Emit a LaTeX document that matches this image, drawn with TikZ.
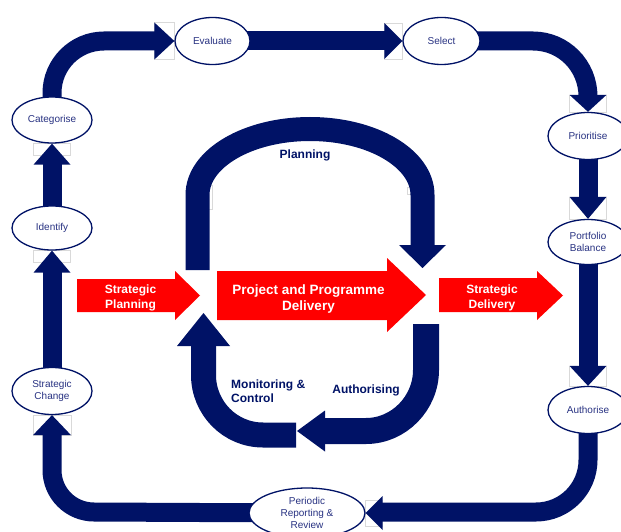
\documentclass[tikz,border=0pt]{standalone}
\usepackage{fontspec}
\setmainfont{Liberation Sans}
\usetikzlibrary{shapes.geometric}
\pgfdeclarelayer{back}
\pgfsetlayers{back,main}
\definecolor{navy}{RGB}{0,18,102}
\definecolor{navytext}{RGB}{40,50,130}
\definecolor{pred}{RGB}{255,0,0}
% arrow heads: tip, length, half width
\newcommand\hdR[3]{\fill[navy] (#1) -- ++(-#2,-#3) -- ++(0,2*#3) -- cycle;}
\newcommand\hdL[3]{\fill[navy] (#1) -- ++(#2,-#3) -- ++(0,2*#3) -- cycle;}
\newcommand\hdU[3]{\fill[navy] (#1) -- ++(-#3,#2) -- ++(2*#3,0) -- cycle;}
\newcommand\hdD[3]{\fill[navy] (#1) -- ++(-#3,-#2) -- ++(2*#3,0) -- cycle;}
\begin{document}
\begin{tikzpicture}[x=1pt,y=-1pt,
  band/.style={draw=navy,line width=19pt},
  stage/.style={ellipse,draw=navy,line width=1.3pt,fill=white,inner sep=0pt,
    minimum width=80pt,minimum height=46pt,text=navytext,
    font=\fontsize{10}{12}\selectfont,align=center},
  ghost/.style={draw=black!15,line width=0.6pt},
  lbl/.style={text=navy,inner sep=0pt,font=\bfseries\fontsize{12}{14}\selectfont},
  redlbl/.style={text=white,inner sep=0pt,align=center,font=\bfseries\fontsize{12}{14.5}\selectfont},
  redarrow/.style={fill=pred}
]
\useasboundingbox (0,0) rectangle (621,532);
\clip (0,0) rectangle (621,532);

% ---- outer stages
\node[stage,minimum width=75pt,minimum height=47pt] (eval) at (212.5,41) {Evaluate};
\node[stage,minimum width=77pt,minimum height=47pt] (sel) at (441.5,41) {Select};
\node[stage] (cat) at (52,120) {Categorise};
\node[stage,minimum height=44pt] (ident) at (52,228) {Identify};
\node[stage,minimum height=47pt] (stch) at (52,391) {Strategic\\Change};
\node[stage,minimum height=47pt] (prio) at (588,136) {Prioritise};
\node[stage,minimum height=45pt] (port) at (588,242) {Portfolio\\Balance};
\node[stage,minimum height=47pt] (auth) at (588,410) {Authorise};
\node[stage,minimum width=116pt,minimum height=50pt] (per) at (307,513) {Periodic\\Reporting \&\\Review};

\coordinate (pltip) at (422.5,268);
\coordinate (plstart) at (197.5,270);
\coordinate (austart) at (426,324);
\coordinate (autip) at (297,431);
\coordinate (mostart) at (296,435);
\coordinate (motip) at (203.5,313);

\begin{pgfonlayer}{back}
  % faint boxes behind arrow heads
  \draw[ghost] (eval.west) ++(-20,-18.5) rectangle ++(20,37);
  \draw[ghost] (sel.west) ++(-18,-18) rectangle ++(18,36);
  \draw[ghost] (prio.north) ++(-18.5,-17) rectangle ++(37,17);
  \draw[ghost] (port.north) ++(-18.5,-22) rectangle ++(37,22);
  \draw[ghost] (auth.north) ++(-18.5,-20) rectangle ++(37,20);
  \draw[ghost] (per.east) ++(0,-13) rectangle ++(17,26);
  \draw[ghost] (stch.south) ++(-19,0) rectangle ++(38,20);
  \draw[ghost] (ident.south) ++(-18.5,0) rectangle ++(37,12);
  \draw[ghost] (cat.south) ++(-18.5,0) rectangle ++(37,12);
  \draw[ghost] (208.5,185) rectangle (212.5,209);
  \draw[ghost] (407,187) rectangle (412,194);

  % outer loop bands
  \draw[band] (cat.center) -- (52,93) .. controls (52,64.3) and (75.3,41) .. (104,41) -- (156,41);
  \draw[band] (eval.center) -- (386,41);
  \draw[band] (sel.center) -- (533,41) .. controls (563.4,41) and (588,65.6) .. (588,96.5);
  \draw[band] (prio.center) -- (588,198.5);
  \draw[band] (port.center) -- (588,367.5);
  \draw[band] (auth.center) -- (588,460) .. controls (588,488.7) and (564.7,512) .. (536,512) -- (381,512);
  \draw[band] (per.center) -- (94,512) .. controls (70.8,512) and (52,493.2) .. (52,470) -- (52,433.5);
  \draw[band] (stch.center) -- (52,271);
  \draw[band] (ident.center) -- (52,163);

  \hdR{eval.west}{20}{18.5}
  \hdR{sel.west}{18}{18}
  \hdD{prio.north}{17}{18.5}
  \hdD{port.north}{22}{18.5}
  \hdD{auth.north}{20}{18.5}
  \hdL{per.east}{17}{17}
  \hdU{stch.south}{20}{19}
  \hdU{ident.south}{22}{18.5}
  \hdU{cat.south}{21}{18.5}

  % inner cycle
  \draw[navy,line width=24pt] (plstart) -- (197.5,195) .. controls (197.5,158.5) and (247.9,129) .. (310,129)
     .. controls (372.1,129) and (422.5,158.5) .. (422.5,195) -- (422.5,246);
  \hdD{pltip}{23}{23.5}
  \draw[navy,line width=26pt] (austart) -- (426,370) .. controls (426,403) and (399,431) .. (366,431) -- (324,431);
  \hdL{autip}{28}{20.5}
  \draw[navy,line width=25pt] (mostart) -- (263,435) .. controls (230,435) and (203.5,408) .. (203.5,375) -- (203.5,345);
  \hdU{motip}{33}{26.5}
\end{pgfonlayer}

% ---- red arrows
\fill[redarrow] (77,279) -- (175,279) -- (175,271) -- (200,295.5) -- (175,320) -- (175,312) -- (77,312) -- cycle;
\fill[redarrow] (217,271) -- (387,271) -- (387,258) -- (426,295) -- (387,332) -- (387,320) -- (217,320) -- cycle;
\fill[redarrow] (439,278) -- (537,278) -- (537,271) -- (563,295.5) -- (537,320) -- (537,312) -- (439,312) -- cycle;
\node[redlbl] (sp) at (130.5,298) {Strategic\\Planning};
\node[redlbl,font=\bfseries\fontsize{13.5}{16}\selectfont] (ppd) at (308.5,299) {Project and Programme\\Delivery};
\node[redlbl] (sd) at (492,298) {Strategic\\Delivery};

% ---- inner labels
\node[lbl,anchor=base] (pl) at (305,158) {Planning};
\node[lbl,anchor=base] (au) at (366,393) {Authorising};
\node[lbl,anchor=north west,align=left] (mo) at (231,380) {Monitoring \&\\Control};
\end{tikzpicture}
\end{document}
